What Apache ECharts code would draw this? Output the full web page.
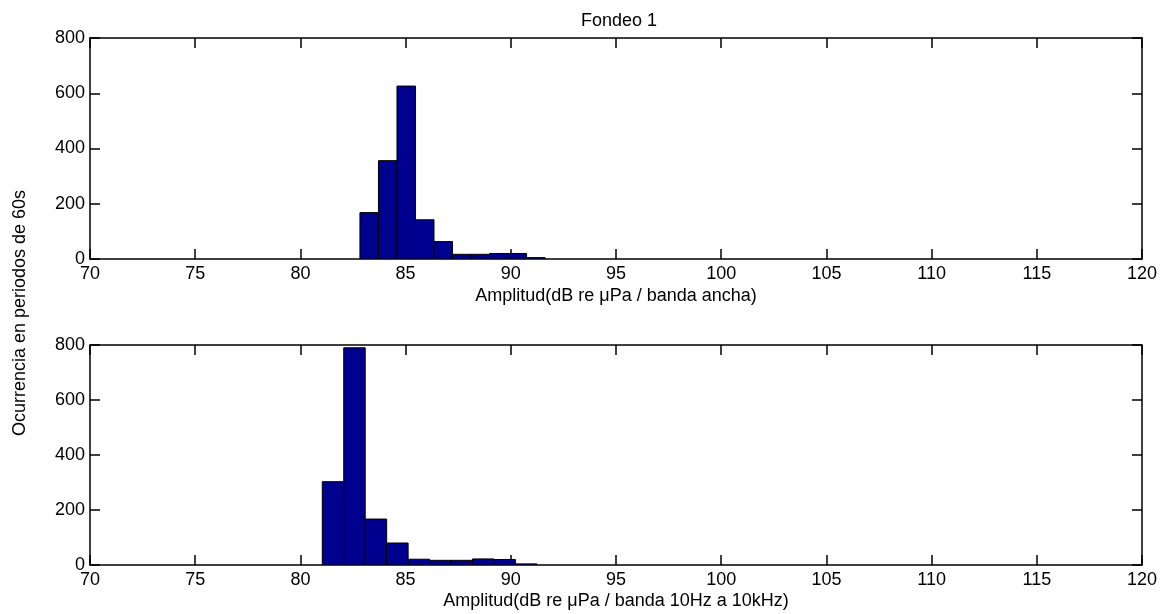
<!DOCTYPE html>
<html>
<head>
<meta charset="utf-8">
<script src="https://cdn.jsdelivr.net/npm/echarts@6/dist/echarts.min.js"></script>
<style>
html,body{margin:0;padding:0;background:#fff;}
#chart{width:1170px;height:614px;}
</style>
</head>
<body>
<div id="chart"></div>
<script>
// ---- Data ----
var chartTitle = 'Fondeo 1';
var yAxisTitle = 'Ocurrencia en periodos de 60s';
var topXTitle = 'Amplitud(dB re \u03bcPa / banda ancha)';
var bottomXTitle = 'Amplitud(dB re \u03bcPa / banda 10Hz a 10kHz)';

// Panel 1 (banda ancha): bin centres and counts
var topBinCenters = [83.27, 84.15, 85.03, 85.91, 86.79, 87.67, 88.55, 89.43, 90.31, 91.19];
var topCounts     = [168, 356, 626, 142, 63, 17, 17, 20, 20, 5];
var topBinWidth = 0.88;

// Panel 2 (banda 10Hz a 10kHz): bin centres and counts
var bottomBinCenters = [81.55, 82.57, 83.59, 84.61, 85.63, 86.65, 87.67, 88.69, 89.71, 90.73];
var bottomCounts     = [303, 790, 167, 80, 21, 17, 17, 22, 20, 4];
var bottomBinWidth = 1.02;

var xTicks = [70, 75, 80, 85, 90, 95, 100, 105, 110, 115, 120];
var yTicks = [0, 200, 400, 600, 800];

// ---- Chart ----
var FONT = 'Liberation Sans, Arial, sans-serif';
var FS = 18;
var textStyle = {color:'#000', fontFamily:FONT, fontSize:FS};
var LW = 1.5;

function pairs(c, v){ return c.map(function(x,i){ return [x, v[i]]; }); }

function histRender(width){
  return function(params, api){
    var c = api.value(0), v = api.value(1);
    var p1 = api.coord([c - width/2, v]);
    var p2 = api.coord([c + width/2, 0]);
    return {
      type:'rect',
      shape:{x:p1[0], y:p1[1], width:p2[0]-p1[0], height:p2[1]-p1[1]},
      style:{fill:'#00008f', stroke:'#000', lineWidth:1}
    };
  };
}

function xAxisPair(gi, name, gap){
  var base = {
    type:'value', gridIndex:gi, min:xTicks[0], max:xTicks[xTicks.length-1], interval:5,
    splitLine:{show:false},
    axisLine:{show:true, onZero:false, lineStyle:{color:'#000', width:LW}},
    axisTick:{show:true, inside:true, length:10, lineStyle:{color:'#000', width:LW}}
  };
  var bottom = Object.assign({}, base, {
    position:'bottom',
    axisLabel:Object.assign({margin:6}, textStyle),
    name:name, nameLocation:'middle', nameGap:gap, nameTextStyle:textStyle
  });
  var top = Object.assign({}, base, {position:'top', axisLabel:{show:false}});
  return [bottom, top];
}
function yAxisPair(gi){
  var base = {
    type:'value', gridIndex:gi, min:yTicks[0], max:yTicks[yTicks.length-1], interval:200,
    splitLine:{show:false},
    axisLine:{show:true, onZero:false, lineStyle:{color:'#000', width:LW}},
    axisTick:{show:true, inside:true, length:10, lineStyle:{color:'#000', width:LW}}
  };
  var left = Object.assign({}, base, {position:'left', axisLabel:Object.assign({margin:5}, textStyle)});
  var right = Object.assign({}, base, {position:'right', axisLabel:{show:false}});
  return [left, right];
}

var xa1 = xAxisPair(0, topXTitle, 28), xa2 = xAxisPair(1, bottomXTitle, 27);
var ya1 = yAxisPair(0), ya2 = yAxisPair(1);

var option = {
  animation:false,
  backgroundColor:'#fff',
  title:{text:chartTitle, left:614, top:7, textAlign:'center',
         textStyle:{color:'#000', fontFamily:FONT, fontSize:FS, fontWeight:'normal'}},
  grid:[
    {left:90, right:28, top:38, height:221, containLabel:false},
    {left:90, right:28, top:345, height:220, containLabel:false}
  ],
  xAxis:[xa1[0], xa1[1], xa2[0], xa2[1]],
  yAxis:[ya1[0], ya1[1], ya2[0], ya2[1]],
  graphic:[{
    type:'text', rotation:Math.PI/2, x:20, y:313,
    style:{text:yAxisTitle, fill:'#000', font:FS + 'px ' + FONT, textAlign:'center', textVerticalAlign:'middle'}
  }],
  series:[
    {type:'custom', xAxisIndex:0, yAxisIndex:0, renderItem:histRender(topBinWidth),
     encode:{x:0, y:1}, data:pairs(topBinCenters, topCounts), clip:true},
    {type:'custom', xAxisIndex:2, yAxisIndex:2, renderItem:histRender(bottomBinWidth),
     encode:{x:0, y:1}, data:pairs(bottomBinCenters, bottomCounts), clip:true}
  ]
};
var chart = echarts.init(document.getElementById('chart'), null, {renderer:'canvas'});
chart.setOption(option);
</script>
</body>
</html>
